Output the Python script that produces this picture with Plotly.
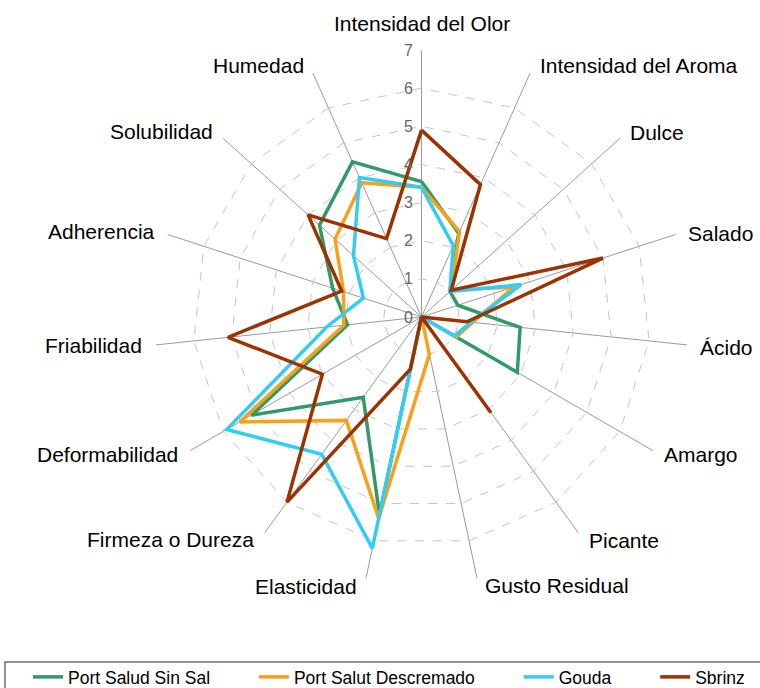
import plotly.graph_objects as go

categories = ["Intensidad del Olor", "Intensidad del Aroma", "Dulce", "Salado", "Ácido",
              "Amargo", "Picante", "Gusto Residual", "Elasticidad", "Firmeza o Dureza",
              "Deformabilidad", "Friabilidad", "Adherencia", "Solubilidad", "Humedad"]

port_salud_sin_sal = [3.55, 2.4, 1.0, 1.0, 2.6, 2.9, 0, 0, 5.3, 2.6, 5.15, 1.95, 2.45, 3.6, 4.45]
port_salut_descremado = [3.4, 2.45, 1.05, 2.55, 1.35, 1.05, 0, 1.0, 5.4, 3.35, 5.5, 2.05, 2.15, 3.05, 3.85]
gouda = [3.4, 2.05, 1.0, 2.75, 1.3, 1.0, 0, 0, 6.2, 4.45, 5.9, 2.5, 1.6, 2.4, 4.0]
sbrinz = [4.9, 3.8, 1.05, 5.0, 1.2, 0, 3.1, 0, 1.4, 6.0, 3.0, 5.1, 2.2, 4.0, 2.25]

series_names = ["Port Salud Sin Sal", "Port Salut Descremado", "Gouda", "Sbrinz"]
series_values = [port_salud_sin_sal, port_salut_descremado, gouda, sbrinz]
radial_ticks = [0, 1, 2, 3, 4, 5, 6, 7]
R_MAX = 7

# styles
colors = ["#339966", "#F7A11A", "#33CCF5", "#993300"]
legend_pad = ["\u00a0" * 8, "\u00a0" * 8, "\u00a0" * 8, ""]
# category label placement (pixel position of anchor, horizontal anchor)
label_pos = [
    (422, 24, "center"), (538, 66, "left"), (628, 132, "left"), (686, 233, "left"),
    (698, 347, "left"), (662, 455, "left"), (587, 540, "left"), (483, 585, "left"),
    (359, 586, "right"), (256, 539, "right"), (180, 454, "right"), (144, 345, "right"),
    (157, 231, "right"), (215, 131, "right"), (306, 66, "right"),
]

W, H = 760, 688
cx, cy, R = 421.5, 317, 267
dom_y0 = (H - cy - R) / H
dom_y1 = (H - cy + R) / H

fig = go.Figure()
for name, vals, col, pad in zip(series_names, series_values, colors, legend_pad):
    fig.add_trace(go.Scatterpolar(
        r=vals + vals[:1],
        theta=categories + categories[:1],
        mode="lines",
        name=name + pad,
        line=dict(color=col, width=3.5),
    ))

annotations = []
for text, (px, py, anchor) in zip(categories, label_pos):
    annotations.append(dict(
        text=text, x=px / W, y=(H - py) / H, xref="paper", yref="paper",
        xanchor=anchor, yanchor="middle", showarrow=False,
        font=dict(size=21, color="black", family="Liberation Sans, Arial, sans-serif"),
    ))
# radial tick labels, placed on the radial scale (centre -> top of the polar domain)
for t in radial_ticks:
    frac = t / R_MAX
    annotations.append(dict(
        text=str(t), x=(cx - 6) / W, y=(dom_y0 + dom_y1) / 2 + frac * (dom_y1 - dom_y0) / 2,
        xref="paper", yref="paper", xanchor="right", yanchor="middle", showarrow=False,
        font=dict(size=16, color="#666666", family="Liberation Sans, Arial, sans-serif"),
    ))

fig.update_layout(
    width=W, height=H,
    margin=dict(l=0, r=0, t=0, b=0, autoexpand=False),
    paper_bgcolor="white",
    plot_bgcolor="white",
    font=dict(family="Liberation Sans, Arial, sans-serif", color="black"),
    polar=dict(
        domain=dict(x=[(cx - R) / W, (cx + R) / W], y=[dom_y0, dom_y1]),
        bgcolor="white",
        gridshape="linear",
        angularaxis=dict(
            type="category",
            categoryarray=categories,
            direction="clockwise",
            rotation=90,
            showticklabels=False,
            ticks="",
            gridcolor="#9a9a9a",
            gridwidth=1,
            showline=False,
        ),
        radialaxis=dict(
            range=[0, R_MAX],
            tickvals=radial_ticks,
            angle=90,
            showticklabels=False,
            showline=False,
            ticks="",
            gridcolor="#c4c4c4",
            gridwidth=1,
            griddash="dash",
        ),
    ),
    annotations=annotations,
    showlegend=True,
    legend=dict(
        orientation="h",
        x=28 / W, xanchor="left",
        y=11 / H, yanchor="middle",
        font=dict(size=17.5, color="black", family="Liberation Sans, Arial, sans-serif"),
        bgcolor="rgba(0,0,0,0)",
        borderwidth=0,
    ),
    shapes=[dict(type="rect", xref="paper", yref="paper",
                 x0=5 / W, x1=1.02, y0=-0.02, y1=(H - 662) / H,
                 line=dict(color="#6e6e6e", width=1.5), fillcolor="rgba(0,0,0,0)")],
)

fig.write_html("out.html", config={"displayModeBar": False},
               post_script="document.body.style.margin='0px';")
